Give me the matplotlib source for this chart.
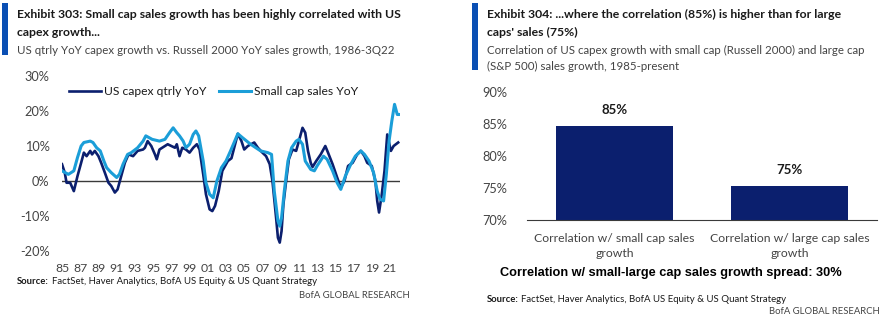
import matplotlib.pyplot as plt
from matplotlib.patches import Rectangle

# Exhibit 303 data: US capex qtrly YoY vs small cap sales YoY (%)
capex_years = [1985.0, 1985.3, 1985.5, 1985.9, 1986.3, 1986.7, 1987.1, 1987.4, 1987.7, 1988.1,
               1988.3, 1988.6, 1989.0, 1989.3, 1989.7, 1990.1, 1990.4, 1990.8, 1991.1, 1991.5,
               1991.9, 1992.3, 1992.8, 1993.3, 1993.9, 1994.1, 1994.4, 1994.8, 1995.2, 1995.4,
               1995.7, 1996.3, 1996.6, 1997.0, 1997.4, 1997.6, 1997.9, 1998.2, 1998.6, 1999.0,
               1999.4, 1999.8, 2000.1, 2000.5, 2000.8, 2001.2, 2001.5, 2001.8, 2002.2, 2002.6,
               2003.2, 2003.6, 2003.9, 2004.3, 2004.7, 2005.0, 2005.4, 2006.1, 2006.5, 2007.0,
               2007.4, 2007.8, 2008.1, 2008.5, 2008.7, 2008.9, 2009.1, 2009.3, 2009.6, 2009.9,
               2010.3, 2010.7, 2011.0, 2011.4, 2011.7, 2012.0, 2012.3, 2012.5, 2012.9, 2013.4,
               2013.9, 2014.2, 2014.7, 2015.2, 2015.6, 2016.0, 2016.4, 2016.9, 2017.4, 2017.8,
               2018.2, 2018.5, 2019.0, 2019.4, 2019.6, 2019.8, 2020.1, 2020.4, 2020.7, 2021.1,
               2021.4, 2021.9]
capex_yoy = [4.8, 2.4, -0.5, -0.5, -2.9, 1.4, 5.2, 8.1, 7.1, 8.6,
             7.6, 8.6, 7.1, 5.2, 2.4, -0.5, -1.4, -3.3, -2.4, 1.4,
             5.2, 7.6, 7.1, 8.6, 9.0, 9.5, 11.4, 10.0, 7.6, 6.2,
             9.0, 10.0, 10.5, 10.0, 9.5, 10.5, 7.1, 9.5, 9.0, 8.1,
             9.5, 10.5, 9.0, 1.9, -3.8, -8.1, -8.6, -7.1, -2.9, 2.9,
             5.7, 6.5, 9.5, 13.5, 11.4, 9.0, 10.0, 11.0, 9.5, 8.1,
             7.1, 4.8, 0.0, -10.5, -16.2, -17.6, -14.3, -6.7, 0.0, 6.2,
             9.0, 8.6, 11.4, 15.2, 13.8, 8.6, 5.2, 4.0, 5.7, 7.6,
             10.0, 8.1, 4.8, 1.0, -1.9, 0.0, 4.3, 5.2, 7.6, 8.6,
             7.1, 5.2, 4.3, 0.0, -5.7, -9.0, -3.8, 2.9, 13.3, 8.6,
             10.0, 11.0]

smallcap_years = [1985.0, 1985.7, 1986.3, 1986.7, 1987.1, 1987.4, 1988.1, 1988.4, 1988.8, 1989.2,
                  1989.6, 1989.9, 1990.4, 1991.0, 1991.3, 1991.7, 1992.2, 1992.6, 1993.3, 1993.9,
                  1994.2, 1994.9, 1995.7, 1996.3, 1996.8, 1997.2, 1997.6, 1997.9, 1998.3, 1998.6,
                  1999.0, 1999.4, 1999.7, 2000.0, 2000.5, 2000.8, 2001.2, 2001.6, 2002.0, 2002.5,
                  2003.0, 2003.5, 2004.3, 2004.8, 2005.7, 2006.8, 2007.6, 2008.0, 2008.3, 2008.7,
                  2008.9, 2009.1, 2009.4, 2009.8, 2010.2, 2010.7, 2011.0, 2011.4, 2011.7, 2012.3,
                  2012.7, 2013.0, 2013.7, 2014.1, 2014.7, 2015.2, 2015.6, 2016.1, 2016.7, 2017.2,
                  2017.8, 2018.2, 2018.7, 2019.2, 2019.6, 2019.9, 2020.3, 2020.6, 2020.9, 2021.2,
                  2021.5, 2021.8, 2022.0]
smallcap_yoy = [2.9, 1.9, 2.9, 6.7, 10.0, 11.0, 11.4, 11.0, 9.5, 8.6,
                5.7, 3.8, 2.4, 1.0, 1.9, 4.8, 7.6, 8.1, 9.5, 11.4,
                12.9, 11.9, 11.4, 11.9, 13.8, 15.2, 13.8, 12.9, 11.4, 9.5,
                10.5, 13.3, 14.3, 12.9, 5.7, -0.5, -3.8, -4.8, 0.0, 3.8,
                5.7, 8.6, 13.5, 12.4, 10.5, 8.6, 8.1, 7.6, -2.9, -11.4,
                -12.9, -10.5, -2.9, 5.7, 9.5, 11.4, 11.9, 10.5, 5.7, 3.3,
                2.9, 4.3, 7.1, 6.2, 2.9, -0.5, -2.4, 1.4, 4.8, 7.1,
                8.6, 7.6, 5.7, 2.4, -2.9, -5.2, -5.7, 1.9, 11.4, 17.1,
                21.9, 19.0, 19.0]

year_ticks = list(range(1985, 2022, 2))
year_labels = [str(y)[2:] for y in year_ticks]

# Exhibit 304 data: correlation with US capex growth (%)
corr_categories = ['Correlation w/ small cap sales\ngrowth', 'Correlation w/ large cap sales\ngrowth']
corr_values = [84.6, 75.3]
spread_text = 'Correlation w/ small-large cap sales growth spread: 30%'

NAVY = '#0b1f6e'
LIGHT = '#1b9ed8'
ACCENT = '#0a4fb4'
TEXT = '#1a1a1a'
GREY = '#444444'
SOURCE = 'FactSet, Haver Analytics, BofA US Equity & US Quant Strategy'

plt.rcParams['font.family'] = ['Lato', 'DejaVu Sans']

fig = plt.figure(figsize=(8.85, 3.23), dpi=100)
W, H = 885, 323


def fx(px):
    return px / W


def fy(py):
    return 1 - py / H


# ---- headers ----
for x0, top, bottom in [(2, 3, 55), (472, 3, 70)]:
    fig.patches.append(Rectangle((fx(x0), fy(bottom)), 6 / W, (bottom - top) / H,
                                 transform=fig.transFigure, color=ACCENT, lw=0))

fig.text(fx(17), fy(14), 'Exhibit 303: Small cap sales growth has been highly correlated with US',
         fontsize=8.8, fontweight='bold', color=TEXT, va='center')
fig.text(fx(17), fy(32), 'capex growth...', fontsize=8.8, fontweight='bold', color=TEXT, va='center')
fig.text(fx(17), fy(50), 'US qtrly YoY capex growth vs. Russell 2000 YoY sales growth, 1986-3Q22',
         fontsize=8.3, color=GREY, va='center')

fig.text(fx(487), fy(14), 'Exhibit 304: ...where the correlation (85%) is higher than for large',
         fontsize=8.8, fontweight='bold', color=TEXT, va='center')
fig.text(fx(487), fy(32), "caps' sales (75%)", fontsize=8.8, fontweight='bold', color=TEXT, va='center')
fig.text(fx(487), fy(50), 'Correlation of US capex growth with small cap (Russell 2000) and large cap',
         fontsize=8.3, color=GREY, va='center')
fig.text(fx(487), fy(66), '(S&P 500) sales growth, 1985-present', fontsize=8.3, color=GREY, va='center')

# ---- left chart ----
ax1 = fig.add_axes([fx(62), fy(251), (400 - 62) / W, (251 - 76) / H])
ax1.plot(capex_years, capex_yoy, color=NAVY, lw=1.9, label='US capex qtrly YoY')
ax1.plot(smallcap_years, smallcap_yoy, color=LIGHT, lw=2.2, label='Small cap sales YoY')
ax1.axhline(0, color='#3a3a3a', lw=1.0, zorder=0)
ax1.set_xlim(1985, 2022.1)
ax1.set_ylim(-20, 30)
ax1.set_yticks([-20, -10, 0, 10, 20, 30])
ax1.set_yticklabels([f'{v}%' for v in [-20, -10, 0, 10, 20, 30]])
ax1.set_xticks(year_ticks)
ax1.set_xticklabels(year_labels)
for s in ax1.spines.values():
    s.set_visible(False)
ax1.tick_params(axis='y', length=0, pad=9, labelsize=9.2, labelcolor=GREY)
ax1.tick_params(axis='x', length=0, pad=9, labelsize=8.8, labelcolor=GREY)
ax1.legend(loc='upper left', bbox_to_anchor=(0.0, 0.985), ncol=2, frameon=False, fontsize=8.7,
           handlelength=2.6, handletextpad=0.25, columnspacing=1.1, borderaxespad=0.2,
           labelcolor=TEXT)

fig.text(fx(17), fy(282), 'Source:', fontsize=6.8, fontweight='bold', color=TEXT, va='center')
fig.text(fx(52), fy(282), SOURCE, fontsize=6.9, color=TEXT, va='center')
fig.text(fx(410), fy(295), 'BofA GLOBAL RESEARCH', fontsize=6.8, color=GREY, va='center', ha='right')

# ---- right chart ----
ax2 = fig.add_axes([fx(527), fy(220), (877 - 527) / W, (220 - 91.7) / H])
xpos = range(len(corr_values))
ax2.bar(xpos, corr_values, width=0.67, color=NAVY, bottom=0)
ax2.set_xlim(-0.5, 1.5)
ax2.set_ylim(70, 90)
ax2.set_yticks([70, 75, 80, 85, 90])
ax2.set_yticklabels([f'{v}%' for v in [70, 75, 80, 85, 90]])
ax2.set_xticks(list(xpos))
ax2.set_xticklabels(corr_categories, linespacing=1.45)
for name, s in ax2.spines.items():
    s.set_visible(name == 'bottom')
ax2.spines['bottom'].set_color('#3a3a3a')
ax2.tick_params(axis='y', length=0, pad=14, labelsize=9.2, labelcolor=GREY)
ax2.tick_params(axis='x', length=0, pad=9, labelsize=8.8, labelcolor=GREY)
for i, v in enumerate(corr_values):
    ax2.text(i, v + 1.6, f'{v:.0f}%', ha='center', va='bottom', fontsize=9.5,
             fontweight='bold', color=TEXT)

fig.text(fx(500), fy(273), spread_text, fontsize=9.2, fontweight='bold', color='black',
         va='center', family=['Liberation Sans', 'DejaVu Sans'])
fig.text(fx(487), fy(299), 'Source:', fontsize=6.8, fontweight='bold', color=TEXT, va='center')
fig.text(fx(521), fy(299), SOURCE, fontsize=6.9, color=TEXT, va='center')
fig.text(fx(880), fy(312), 'BofA GLOBAL RESEARCH', fontsize=6.8, color=GREY, va='center', ha='right')

fig.savefig('out.png', dpi=100)
